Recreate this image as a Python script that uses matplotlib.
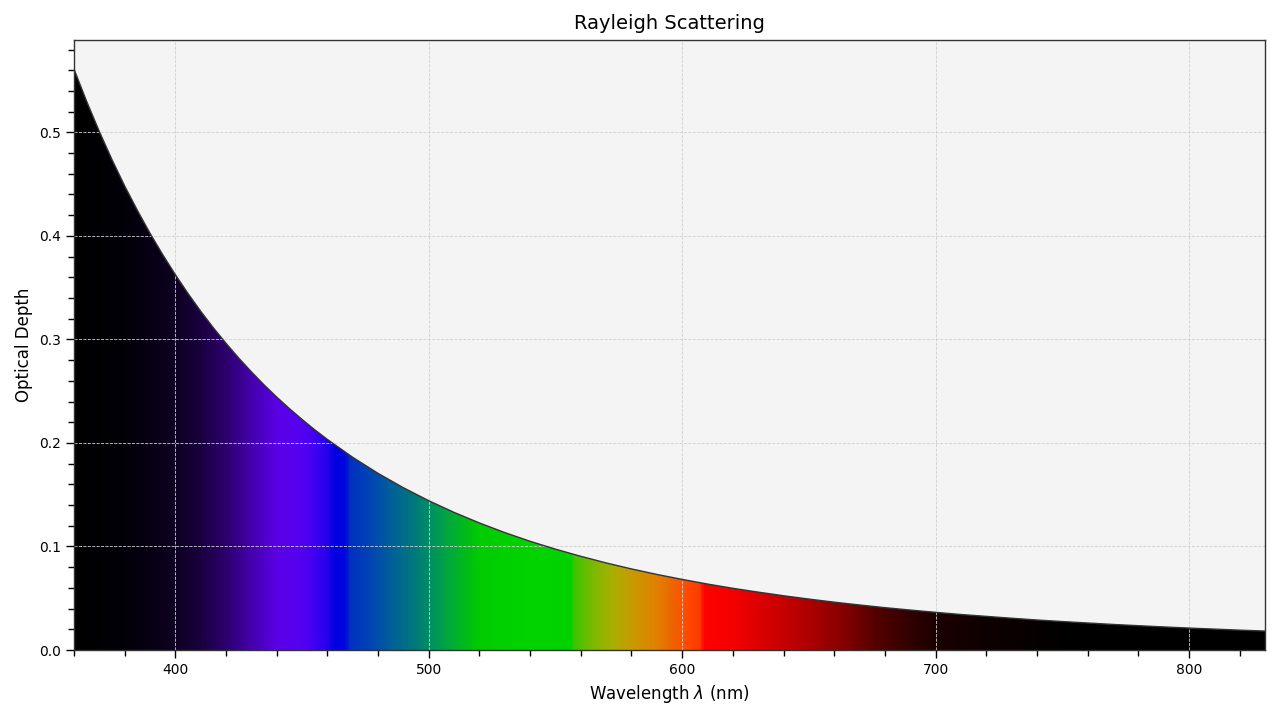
import numpy as np
import matplotlib
matplotlib.use("Agg")
import matplotlib.pyplot as plt
from matplotlib.colors import LinearSegmentedColormap
from matplotlib.patches import Polygon

# Longitudes de onda (nm) y profundidad óptica
wavelengths = [360, 365, 370, 375, 380, 385, 390, 395, 400, 405,
               410, 415, 420, 425, 430, 435, 440, 445, 450, 455,
               460, 470, 480, 490, 500, 510, 520, 530, 540, 550,
               560, 570, 580, 590, 600, 610, 620, 630, 640, 650,
               660, 670, 680, 690, 700, 710, 720, 730, 740, 750,
               760, 770, 780, 790, 800, 810, 820, 830]
optical_depth = [0.5611, 0.5299, 0.5008, 0.4736, 0.4482, 0.4247, 0.4025, 0.3819, 0.3625, 0.3443,
                 0.3272, 0.3112, 0.2962, 0.2820, 0.2687, 0.2561, 0.2443, 0.2332, 0.2227, 0.2127,
                 0.2034, 0.1861, 0.1706, 0.1567, 0.1442, 0.1329, 0.1227, 0.1134, 0.1050, 0.0974,
                 0.0905, 0.0841, 0.0783, 0.0730, 0.0682, 0.0637, 0.0596, 0.0559, 0.0524, 0.0492,
                 0.0462, 0.0435, 0.0409, 0.0386, 0.0364, 0.0343, 0.0325, 0.0307, 0.0290, 0.0275,
                 0.0261, 0.0247, 0.0235, 0.0223, 0.0212, 0.0202, 0.0192, 0.0183]

# Colores del espectro (longitud de onda, color)
spectrum_nm = [360, 380, 400, 410, 420, 430, 440, 450, 458, 463, 467, 468.5, 475, 485,
               495, 502, 510, 516, 520, 540, 556, 557.5, 565, 572, 580, 590, 597, 600,
               607, 608.5, 620, 635, 650, 665, 676, 690, 700, 720, 740, 755, 830]
spectrum_colors = ['#000000', '#020008', '#0e0022', '#1a0040', '#2e0070', '#4500b0', '#5a00e6',
                   '#5400f2', '#3000f0', '#0000e2', '#0008dc', '#0030c0', '#0040b8', '#006098',
                   '#007c78', '#009658', '#00b030', '#00c010', '#00cc00', '#00d400', '#00d200',
                   '#40c400', '#80b800', '#a8b000', '#c89a00', '#e28000', '#f06000', '#ff5000',
                   '#ff3800', '#ff0000', '#f40000', '#d20000', '#ae0000', '#800000', '#560000',
                   '#300000', '#1c0000', '#0e0000', '#060000', '#000000', '#000000']

wl = np.array(wavelengths, dtype=float)
tau = np.array(optical_depth)
lo, hi = spectrum_nm[0], spectrum_nm[-1]
stops = [((w - lo) / (hi - lo), c) for w, c in zip(spectrum_nm, spectrum_colors)]
cmap = LinearSegmentedColormap.from_list('spectrum', stops, N=1024)

fig = plt.figure(figsize=(12.8, 7.2), dpi=100)
ax = fig.add_axes([0.0578, 0.0972, 0.9305, 0.8472])
ax.set_facecolor('#f4f4f4')

ymax = tau.max() * 1.05
grid_x = np.arange(lo, hi + 0.5, 0.5)
img = ax.imshow(grid_x[None, :], cmap=cmap, vmin=lo, vmax=hi, aspect='auto',
                extent=[lo, hi, 0, ymax], origin='lower', interpolation='nearest', zorder=0)
poly = Polygon(np.column_stack([np.r_[wl, wl[-1], wl[0]], np.r_[tau, 0, 0]]),
               closed=True, transform=ax.transData, facecolor='none', edgecolor='none')
ax.add_patch(poly)
img.set_clip_path(poly)

ax.plot(wl, tau, color='#333333', linewidth=1.0, zorder=2)

ax.set_xlim(lo, hi)
ax.set_ylim(0, ymax)
ax.set_xticks([400, 500, 600, 700, 800])
ax.set_xticks(np.arange(360, 831, 20), minor=True)
ax.set_yticks([0.0, 0.1, 0.2, 0.3, 0.4, 0.5])
ax.set_yticks(np.arange(0, 0.59, 0.02), minor=True)
ax.tick_params(which='major', length=6, width=1, labelsize=10)
ax.tick_params(which='minor', length=4, width=1)
ax.grid(which='major', color='#d0d0d0', linestyle='--', linewidth=0.6)
for s in ax.spines.values():
    s.set_color('#333333')
    s.set_linewidth(1.0)

ax.set_title('Rayleigh Scattering', fontsize=14, pad=8)
ax.set_xlabel(r'Wavelength $\lambda$ (nm)', fontsize=12)
ax.set_ylabel('Optical Depth', fontsize=12)

fig.savefig('out.png', dpi=100)
